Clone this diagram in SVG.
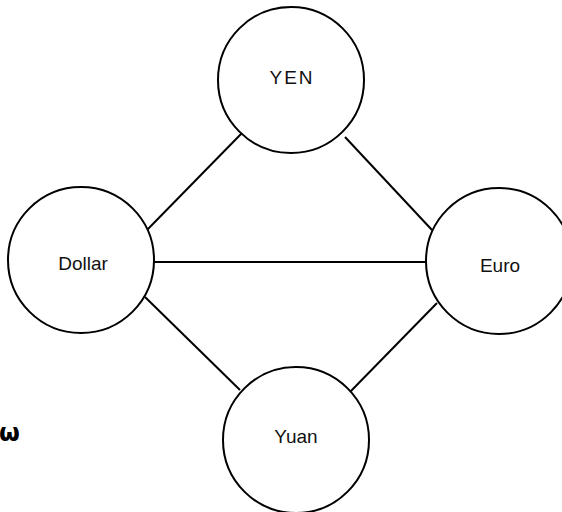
<svg xmlns="http://www.w3.org/2000/svg" width="562" height="512" viewBox="0 0 562 512">
<style>
.n{fill:#fff;stroke:#000;stroke-width:2}
.t{font-family:"Liberation Sans",Arial,sans-serif;font-size:19px;fill:#111;text-anchor:middle}
.e{stroke:#000;stroke-width:2;fill:none}
</style>
<rect width="562" height="512" fill="#fff"/>
<g id="connectors">
<line class="e" x1="242" y1="133" x2="147" y2="230"/>
<line class="e" x1="345" y1="137" x2="432" y2="230"/>
<line class="e" x1="154" y1="262" x2="426" y2="262"/>
<line class="e" x1="145" y1="297" x2="240" y2="390"/>
<line class="e" x1="350" y1="392" x2="437" y2="303"/>
</g>
<g id="yen"><circle class="n" cx="291" cy="80" r="73"/><text class="t" x="292" y="84" letter-spacing="2">YEN</text></g>
<g id="dollar"><circle class="n" cx="81" cy="260" r="73"/><text class="t" x="83" y="270">Dollar</text></g>
<g id="euro"><circle class="n" cx="499" cy="261" r="73"/><text class="t" x="500" y="272">Euro</text></g>
<g id="yuan"><circle class="n" cx="296" cy="440" r="73"/><text class="t" x="296" y="443">Yuan</text></g>
<text x="-1" y="441" style="font-family:'DejaVu Sans',sans-serif;font-size:24px;font-weight:bold">ω</text>
</svg>
